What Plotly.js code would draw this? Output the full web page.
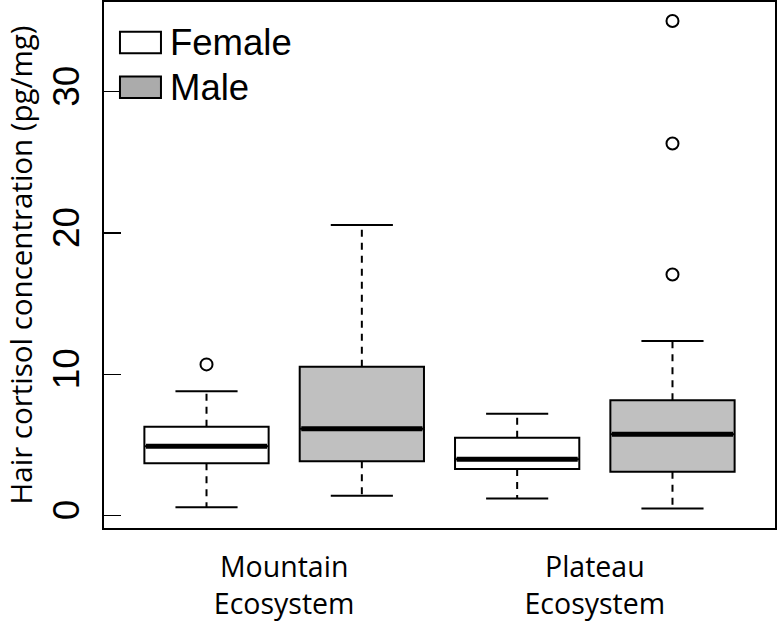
<!DOCTYPE html>
<html>
<head>
<meta charset="utf-8">
<script src="https://cdn.plot.ly/plotly-3.0.1.min.js"></script>
<style>html,body{margin:0;padding:0;background:#fff;}#chart{width:777px;height:621px;}</style>
</head>
<body>
<div id="chart"></div>
<script>
// ---- data ----
const ecosystems = ['Mountain<br>Ecosystem', 'Plateau<br>Ecosystem'];
const sexes = ['Female', 'Male'];
const yTicks = [0, 10, 20, 30];
const yTitle = 'Hair cortisol concentration (pg/mg)';

const femaleLowerWhisker = [0.59, 1.21];
const femaleQ1           = [3.70, 3.30];
const femaleMedian       = [4.91, 3.98];
const femaleQ3           = [6.29, 5.50];
const femaleUpperWhisker = [8.80, 7.20];
const femaleOutliers     = [[10.7], []];

const maleLowerWhisker = [1.41, 0.50];
const maleQ1           = [3.85, 3.10];
const maleMedian       = [6.15, 5.76];
const maleQ3           = [10.54, 8.17];
const maleUpperWhisker = [20.56, 12.36];
const maleOutliers     = [[], [17.06, 26.34, 35.0]];

// ---- styles ----
const boxFill = ['#ffffff', '#c0c0c0'];
const legendFill = ['#ffffff', '#ababab'];
const BOXW = 0.8, STAPLE = 0.4;

const series = [
  {lw: femaleLowerWhisker, q1: femaleQ1, med: femaleMedian, q3: femaleQ3, uw: femaleUpperWhisker, out: femaleOutliers},
  {lw: maleLowerWhisker, q1: maleQ1, med: maleMedian, q3: maleQ3, uw: maleUpperWhisker, out: maleOutliers}
];

const traces = [];
ecosystems.forEach((eco, e) => {
  series.forEach((s, k) => {
    const pos = 2 * e + k + 1;
    // dashed whiskers
    traces.push({type: 'scatter', mode: 'lines', x: [pos, pos, null, pos, pos],
      y: [s.q3[e], s.uw[e], null, s.q1[e], s.lw[e]],
      line: {color: '#000', width: 2, dash: '7px,6px'}, hoverinfo: 'skip', showlegend: false});
    // staples
    traces.push({type: 'scatter', mode: 'lines',
      x: [pos - STAPLE / 2, pos + STAPLE / 2, null, pos - STAPLE / 2, pos + STAPLE / 2],
      y: [s.uw[e], s.uw[e], null, s.lw[e], s.lw[e]],
      line: {color: '#000', width: 2}, hoverinfo: 'skip', showlegend: false});
    // box
    traces.push({type: 'box', x: [pos], q1: [s.q1[e]], median: [s.med[e]], q3: [s.q3[e]],
      lowerfence: [s.q1[e]], upperfence: [s.q3[e]], width: BOXW, whiskerwidth: 0,
      boxpoints: false, fillcolor: boxFill[k], line: {color: '#000', width: 2},
      name: sexes[k], showlegend: false, hoverinfo: 'skip'});
    // thick median
    traces.push({type: 'scatter', mode: 'lines', x: [pos - BOXW / 2 + 0.01, pos + BOXW / 2 - 0.01],
      y: [s.med[e], s.med[e]], line: {color: '#000', width: 5}, hoverinfo: 'skip', showlegend: false});
    // outliers
    if (s.out[e].length) {
      traces.push({type: 'scatter', mode: 'markers', x: s.out[e].map(() => pos), y: s.out[e],
        marker: {symbol: 'circle-open', size: 12, color: '#000', line: {width: 2, color: '#000'}},
        hoverinfo: 'skip', showlegend: false});
    }
  });
});

// manual legend (R style)
const shapes = [], annotations = [];
const legY = [0.923, 0.838];
sexes.forEach((name, k) => {
  shapes.push({type: 'rect', xref: 'paper', yref: 'paper', x0: 0.0238, x1: 0.0849,
    y0: legY[k] - 0.0205, y1: legY[k] + 0.0205, fillcolor: legendFill[k], line: {color: '#000', width: 2}});
  annotations.push({xref: 'paper', yref: 'paper', x: 0.096, y: legY[k], xanchor: 'left', yanchor: 'middle',
    text: name, showarrow: false, font: {family: 'Liberation Sans, Arial, sans-serif', size: 36.5, color: '#000'}});
});

const layout = {
  width: 777, height: 621,
  margin: {l: 104, r: 2, t: 2, b: 93},
  paper_bgcolor: '#fff', plot_bgcolor: '#fff',
  showlegend: false,
  xaxis: {range: [0.34, 4.66], tickvals: [1.5, 3.5], ticktext: ecosystems, ticks: '',
    showgrid: false, zeroline: false, showline: true, mirror: true, linecolor: '#000', linewidth: 2,
    tickfont: {family: 'Open Sans, sans-serif', size: 28.5, color: '#000'}, ticklabelstandoff: 13},
  yaxis: {range: [-0.88, 36.35], tickvals: yTicks, ticktext: yTicks.map(String), ticks: 'inside', ticklen: 17,
    tickwidth: 1.5, tickcolor: '#000', tickangle: -90,
    showgrid: false, zeroline: false, showline: true, mirror: true, linecolor: '#000', linewidth: 2,
    tickfont: {family: 'Liberation Sans, Arial, sans-serif', size: 37, color: '#000'}, ticklabelstandoff: 8,
    title: {text: yTitle, font: {family: 'Open Sans, sans-serif', size: 29.5, color: '#000'}, standoff: 5}},
  shapes: shapes, annotations: annotations
};

Plotly.newPlot('chart', traces, layout, {staticPlot: true, displayModeBar: false});
</script>
</body>
</html>
